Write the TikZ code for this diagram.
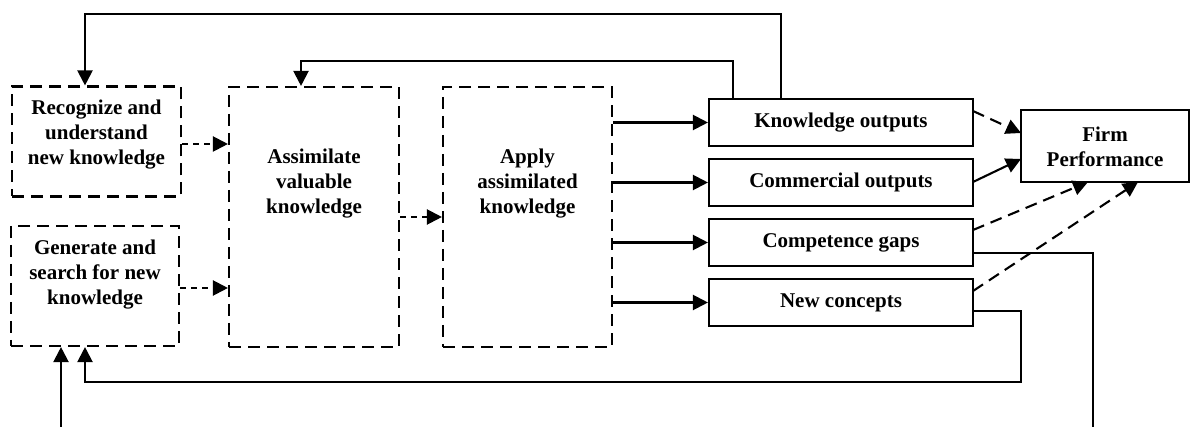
\documentclass[tikz,border=0pt]{standalone}
\usepackage{fontspec}
\setmainfont{Liberation Serif}
\usetikzlibrary{arrows.meta,calc}
\begin{document}
\begin{tikzpicture}[x=1pt,y=-1pt,
  lw/.style={line width=2.1pt},
  tip/.style={-{Triangle[length=15pt,width=15pt]}},
  dbox/.style={draw,lw,dash pattern=on 12pt off 7pt,inner sep=0pt},
  sbox/.style={draw,lw,inner sep=0pt},
  txt/.style={align=center,inner sep=0pt,font=\fontsize{21}{25}\selectfont\bfseries},
  link/.style={lw,tip},
  shortdash/.style={lw,tip,dash pattern=on 6pt off 5pt},
  longdash/.style={lw,tip,dash pattern=on 12pt off 7pt},
  line join=miter]
\useasboundingbox (0,0) rectangle (1194,427);

% capability stages (dashed boxes)
\node[dbox,minimum width=169pt,minimum height=110pt] (R) at (96.5,141.5) {};
\node[txt] (Rt) at (96.5,135) {Recognize and\\understand\\new knowledge};
\node[dbox,minimum width=168pt,minimum height=120pt] (G) at (95,286) {};
\node[txt] (Gt) at (95,275) {Generate and\\search for new\\knowledge};
\node[dbox,minimum width=170pt,minimum height=260pt] (A) at (314,217) {};
\node[txt] (At) at (314,184) {Assimilate\\valuable\\knowledge};
\node[dbox,minimum width=169pt,minimum height=260pt] (P) at (527.5,217) {};
\node[txt] (Pt) at (527.5,184) {Apply\\assimilated\\knowledge};

% outputs (solid boxes)
\node[sbox,minimum width=264pt,minimum height=47pt,txt] (KO) at (841,122.5) {Knowledge outputs};
\node[sbox,minimum width=264pt,minimum height=47pt,txt] (CO) at (841,182.5) {Commercial outputs};
\node[sbox,minimum width=264pt,minimum height=47pt,txt] (CG) at (841,242.5) {Competence gaps};
\node[sbox,minimum width=264pt,minimum height=47pt,txt] (NC) at (841,302.5) {New concepts};
\node[sbox,minimum width=168pt,minimum height=72pt] (FP) at (1105,146) {};
\node[txt] (FPt) at (1105,147) {Firm\\Performance};

% helper coordinates for routing
\coordinate (y144) at (0,144);
\coordinate (y288) at (0,288);
\coordinate (y217) at (0,217);
\coordinate (fb1x) at (781,0);
\coordinate (fb1top) at (85,14);
\coordinate (fb2x) at (733,0);
\coordinate (fb2top) at (301,61);
\coordinate (ncy) at (0,311);
\coordinate (ncturn) at (1021,382);
\coordinate (ncend) at (85,382);
\coordinate (cgy) at (0,253);
\coordinate (cgturn) at (1093,253);
\coordinate (cgend) at (1093,427);
\coordinate (inb) at (61,427);

% stage flow
\draw[shortdash] (R.east |- y144) -- (A.west |- y144);
\draw[shortdash] (G.east |- y288) -- (A.west |- y288);
\draw[shortdash] (A.east |- y217) -- (P.west |- y217);

% applied knowledge to outputs
\draw[link] (P.east |- KO) -- (KO.west);
\draw[link] (P.east |- CO) -- (CO.west);
\draw[link] (P.east |- CG) -- (CG.west);
\draw[link] (P.east |- NC) -- (NC.west);

% outputs to firm performance
\coordinate (ko1) at (973,111);   \coordinate (fp1) at (1021,133);
\coordinate (co1) at (973,182);   \coordinate (fp2) at (1021,159);
\coordinate (cg1) at (973,230);   \coordinate (fp3) at (1088,182);
\coordinate (nc1) at (973,291);   \coordinate (fp4) at (1138,182);
\draw[longdash] (ko1) -- (fp1);
\draw[link] (co1) -- (fp2);
\draw[longdash] (cg1) -- (fp3);
\draw[longdash] (nc1) -- (fp4);

% feedback loops
\draw[link] (KO.north -| fb1x) |- (fb1top) -- (R.north -| fb1top);
\draw[link] (KO.north -| fb2x) |- (fb2top) -- (A.north -| fb2top);
\draw[link] (NC.east |- ncy) -| (ncturn) -- (ncend) -- (G.south -| ncend);
\draw[lw] (CG.east |- cgy) -- (cgturn) -- (cgend);
\draw[link] (inb) -- (G.south -| inb);
\end{tikzpicture}
\end{document}
